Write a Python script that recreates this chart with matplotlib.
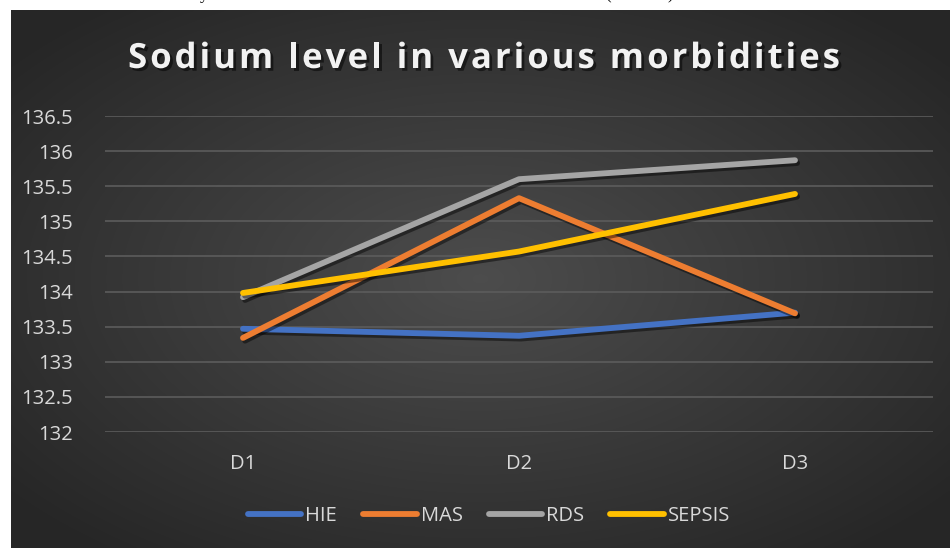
import numpy as np
import matplotlib
matplotlib.use("Agg")
import matplotlib.pyplot as plt
import matplotlib.patheffects as pe
from matplotlib.lines import Line2D

days = ["D1", "D2", "D3"]
hie = [133.47, 133.37, 133.70]
mas = [133.34, 135.33, 133.69]
rds = [133.92, 135.60, 135.87]
sepsis = [133.98, 134.57, 135.39]
series_names = ["HIE", "MAS", "RDS", "SEPSIS"]
series_colors = ["#4472C4", "#ED7D31", "#A5A5A5", "#FFC000"]
y_ticks = [132, 132.5, 133, 133.5, 134, 134.5, 135, 135.5, 136, 136.5]
title = "Sodium level in various morbidities"

plt.rcParams['font.family'] = ['Open Sans', 'DejaVu Sans']

W, H = 950, 548
fig = plt.figure(figsize=(W / 100, H / 100), dpi=100, facecolor="white")

# dark panel with a soft radial gradient
bg = fig.add_axes([11 / W, 0, 939 / W, 538 / H])
gx, gy = np.meshgrid(np.linspace(-1, 1, 400), np.linspace(-1, 1, 240))
dist = np.clip(np.sqrt(gx ** 2 + gy ** 2) / 1.3, 0, 1)
shade = 0.30 - 0.15 * dist
bg.imshow(np.dstack([shade, shade, shade]), aspect="auto", extent=[0, 1, 0, 1],
          interpolation="bilinear")
bg.set_axis_off()

# clipped line of body text above the chart
for xp, ch in [(200, "y"), (605, "("), (667, ")")]:
    fig.text(xp / W, 1.0 + 1 / H, ch, family="Liberation Serif", fontsize=12,
             va="baseline", ha="left", color="black")

ax = fig.add_axes([105 / W, 1 - 432 / H, 828 / W, 316 / H])
ax.patch.set_alpha(0)
x = np.arange(len(days))
shadow = [pe.SimpleLineShadow(offset=(1.5, -2), shadow_color="black", alpha=0.45),
          pe.Normal()]
for vals, name, col in zip([hie, mas, rds, sepsis], series_names, series_colors):
    ax.plot(x, vals, color=col, lw=4.2, solid_capstyle="round",
            solid_joinstyle="round", label=name, path_effects=shadow, zorder=3)

ax.set_xlim(-0.5, 2.5)
ax.set_ylim(132, 136.5)
ax.set_yticks(y_ticks)
ax.set_yticklabels([f"{v:g}" for v in y_ticks])
ax.set_xticks(x)
ax.set_xticklabels(days)
ax.grid(axis="y", color="#5c5c5c", lw=1.2)
ax.set_axisbelow(True)
for s in ax.spines.values():
    s.set_visible(False)
ax.tick_params(axis="both", length=0, labelsize=14.5, colors="#d9d9d9")
ax.tick_params(axis="y", pad=23)
ax.tick_params(axis="x", pad=16)

# title with widened letter spacing, placed glyph by glyph
title_kw = dict(fontsize=25, fontweight="bold", color="#f2f2f2", va="center",
                ha="left",
                path_effects=[pe.withSimplePatchShadow(offset=(2, -2),
                                                       shadow_rgbFace="black", alpha=0.5)])
renderer = fig.canvas.get_renderer()
probe = fig.text(0, 0, "", **title_kw)
adv = []
for i in range(len(title)):
    probe.set_text(title[:i + 1].replace(" ", "\u00a0"))
    adv.append(probe.get_window_extent(renderer).width)
probe.remove()
spacing = 3.0
total = adv[-1] + spacing * (len(title) - 1)
x0 = 484 - total / 2
for i, ch in enumerate(title):
    if ch == " ":
        continue
    start = (adv[i - 1] if i > 0 else 0) + spacing * i
    fig.text((x0 + start) / W, 1 - 59 / H, ch, **title_kw)

handles = [Line2D([0], [0], color=c, lw=4.2, solid_capstyle="round") for c in series_colors]
leg = fig.legend(handles, series_names, loc="center", bbox_to_anchor=(489 / W, 1 - 516 / H),
                 ncol=4, frameon=False, fontsize=14.5, handlelength=2.65,
                 handletextpad=0.2, columnspacing=1.3, labelcolor="#d9d9d9")

fig.savefig("out.png", dpi=100, facecolor="white")
